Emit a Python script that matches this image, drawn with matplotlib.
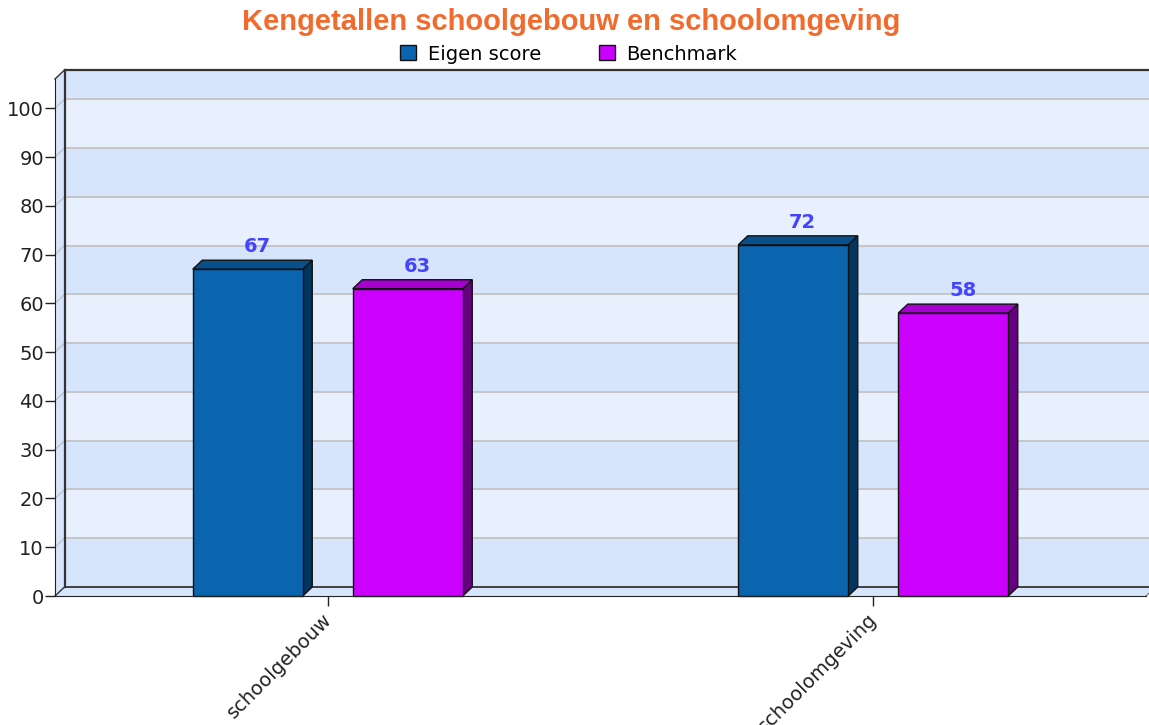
import numpy as np
import matplotlib
matplotlib.use("Agg")
import matplotlib.pyplot as plt
import matplotlib.transforms as mtransforms
from matplotlib.patches import Polygon, Rectangle

categories = ["schoolgebouw", "schoolomgeving"]
series_names = ["Eigen score", "Benchmark"]
eigen_score = [67, 72]
benchmark = [63, 58]
y_ticks = list(range(0, 101, 10))

TITLE = "Kengetallen schoolgebouw en schoolomgeving"

front_colors = ["#0a64ae", "#cc00ff"]
top_colors = ["#07508c", "#a600d0"]
side_colors = ["#04355e", "#660080"]
label_color = "#4444ff"

W, H = 1149, 725
fig = plt.figure(figsize=(W / 100, H / 100), dpi=100)

# front plot area in pixels
x_left, x_right = 55, 1146
y_bottom, y_top = 596, 79
ymax = 106.0
ax = fig.add_axes([x_left / W, 1 - y_bottom / H,
                   (x_right - x_left) / W, (y_bottom - y_top) / H])
ax.set_xlim(0, 2)
ax.set_ylim(0, ymax)
ax.patch.set_visible(False)

px_x = (x_right - x_left) / 2.0
px_y = (y_bottom - y_top) / ymax
dx = 9.5 / px_x
dy = 9.0 / px_y

band_dark = "#d7e5fc"
band_light = "#e9f0fd"

# side wall
ax.add_patch(Polygon([(0, 0), (dx, dy), (dx, ymax + dy), (0, ymax)],
                     closed=True, fc=band_dark, ec="none", clip_on=False, zorder=0))
# back wall bands
edges = y_ticks + [ymax]
for i in range(len(edges) - 1):
    fc = band_dark if i % 2 == 0 else band_light
    ax.add_patch(Rectangle((dx, edges[i] + dy), 2.2, edges[i + 1] - edges[i],
                           fc=fc, ec="none", clip_on=False, zorder=0))
for v in y_ticks[1:]:
    ax.plot([dx, 2.2], [v + dy, v + dy], color="#c3c3c3", lw=1.3,
            clip_on=False, zorder=1)
    ax.plot([0, dx], [v, v + dy], color="#c3c3c3", lw=1.0,
            clip_on=False, zorder=1)
# floor
ax.add_patch(Polygon([(0, 0), (2, 0), (2 + dx, dy), (dx, dy)],
                     closed=True, fc=band_dark, ec="none", clip_on=False, zorder=1))
# frame lines
ax.plot([dx, 2.2], [ymax + dy, ymax + dy], color="#333333", lw=1.6, clip_on=False, zorder=2)
ax.plot([dx, dx], [dy, ymax + dy], color="#333333", lw=1.6, clip_on=False, zorder=2)
ax.plot([dx, 2.2], [dy, dy], color="#333333", lw=1.3, clip_on=False, zorder=2)
ax.plot([0, dx], [ymax, ymax + dy], color="#333333", lw=1.0, clip_on=False, zorder=2)
ax.plot([0, dx], [0, dy], color="#333333", lw=1.0, clip_on=False, zorder=2)
ax.plot([2, 2 + dx], [0, dy], color="#888888", lw=1.0, clip_on=False, zorder=2)

# bars
bar_w = 110 / px_x
offsets = [-135 / px_x, 25 / px_x]
for s, values in enumerate([eigen_score, benchmark]):
    for c, v in enumerate(values):
        x0 = c + 0.5 + offsets[s]
        x1 = x0 + bar_w
        ax.add_patch(Polygon([(x1, 0), (x1 + dx, dy), (x1 + dx, v + dy), (x1, v)],
                             closed=True, fc=side_colors[s], ec="#111111",
                             lw=1.0, clip_on=False, zorder=3))
        ax.add_patch(Polygon([(x0, v), (x1, v), (x1 + dx, v + dy), (x0 + dx, v + dy)],
                             closed=True, fc=top_colors[s], ec="#111111",
                             lw=1.0, clip_on=False, zorder=3))
        ax.add_patch(Rectangle((x0, 0), bar_w, v, fc=front_colors[s],
                               ec="#111111", lw=1.0, clip_on=False, zorder=4))
        ax.annotate(str(v), ((x0 + x1) / 2 + dx, v + dy), xytext=(0, 3),
                    textcoords="offset points", ha="center", va="bottom",
                    color=label_color, fontsize=14, fontweight="bold",
                    zorder=5)

# axes
for side in ["top", "right"]:
    ax.spines[side].set_visible(False)
ax.spines["left"].set_color("#222222")
ax.spines["bottom"].set_color("#222222")
ax.spines["left"].set_zorder(6)
ax.spines["bottom"].set_zorder(6)
ax.set_yticks(y_ticks)
ax.set_yticklabels([str(t) for t in y_ticks], fontsize=14, color="#222222")
ax.set_xticks([0.5, 1.5])
ax.set_xticklabels(categories, fontsize=14, color="#222222",
                   rotation=45, ha="right", va="top", rotation_mode="anchor")
ax.tick_params(axis="both", length=7, width=1, color="#222222")
ax.tick_params(axis="y", pad=1)
ax.tick_params(axis="x", pad=3)
shift = mtransforms.ScaledTranslation(-6 / 100, 0, fig.dpi_scale_trans)
for lbl in ax.get_xticklabels():
    lbl.set_transform(lbl.get_transform() + shift)

fig.text(0.497, 1 - 22 / H, TITLE, ha="center", va="center",
         fontsize=21, fontweight="bold", color="#f26b2e",
         family="Liberation Sans")

handles = [Rectangle((0, 0), 1, 1, fc=front_colors[i], ec="#111111", lw=1.0)
           for i in range(2)]
fig.legend(handles, series_names, loc="center", bbox_to_anchor=(0.495, 1 - 54 / H),
           ncol=2, frameon=False, fontsize=14, handlelength=0.8,
           handleheight=0.8, handletextpad=0.6, columnspacing=3.0,
           borderpad=0.0)

fig.savefig("out.png", dpi=100)
